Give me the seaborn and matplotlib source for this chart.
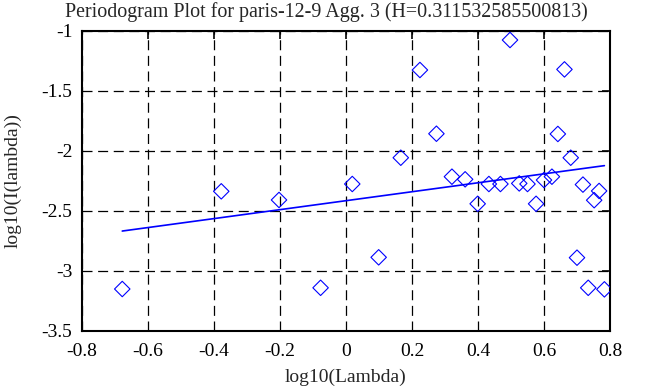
"""
Periodogram plot (log-log) with least-squares fit line
"""

import matplotlib
matplotlib.use('Agg')
import matplotlib.pyplot as plt
import numpy as np
import pandas as pd
import seaborn as sns

# data
log_lambda = [-0.678, -0.378, -0.203, -0.077, 0.019, 0.099, 0.166, 0.224, 0.274,
              0.321, 0.361, 0.399, 0.433, 0.468, 0.497, 0.525, 0.550, 0.576,
              0.600, 0.624, 0.642, 0.662, 0.681, 0.700, 0.718, 0.734, 0.752,
              0.767, 0.783]
log_I = [-3.15, -2.336, -2.408, -3.14, -2.275, -2.886, -2.056, -1.325, -1.856,
         -2.214, -2.236, -2.44, -2.275, -2.275, -1.075, -2.27, -2.275, -2.44,
         -2.242, -2.214, -1.858, -1.32, -2.056, -2.889, -2.28, -3.14, -2.41,
         -2.333, -3.153]

# fitted line end points
fit_x = [-0.678, 0.783]
fit_y = [-2.667, -2.122]

title = 'Periodogram Plot for paris-12-9 Agg. 3 (H=0.311532585500813)'
xticks = [-0.8, -0.6, -0.4, -0.2, 0, 0.2, 0.4, 0.6, 0.8]
yticks = [-3.5, -3, -2.5, -2, -1.5, -1]

sns.set_style('white')
plt.rcParams['font.family'] = ['Liberation Serif', 'DejaVu Serif']
plt.rcParams['font.size'] = 14

points = pd.DataFrame({'x': log_lambda, 'y': log_I})
fit = pd.DataFrame({'x': fit_x, 'y': fit_y})

fig = plt.figure(figsize=(6.53, 3.87), dpi=100)
ax = fig.add_axes([82 / 653, 1 - 331 / 387, 528 / 653, 300 / 387])

sns.scatterplot(data=points, x='x', y='y', ax=ax, marker='D', s=62,
                facecolors='none', edgecolor='blue', linewidth=0.8, zorder=3)
sns.lineplot(data=fit, x='x', y='y', ax=ax, color='blue', linewidth=1.2, zorder=3)

ax.set_xlim(-0.8, 0.8)
ax.set_ylim(-3.5, -1)
ax.set_xticks(xticks)
ax.set_yticks(yticks)
ax.set_xticklabels(['-0.8', '-0.6', '-0.4', '-0.2', '0', '0.2', '0.4', '0.6', '0.8'])
ax.set_yticklabels(['-3.5', '-3', '-2.5', '-2', '-1.5', '-1'])
ax.tick_params(direction='in', length=6, width=1.2, top=True, right=True,
               labelsize=14, colors='black', pad=7)
ax.tick_params(axis='x', pad=9)
ax.grid(True, color='black', linestyle=(0, (8, 4.5)), linewidth=0.9)
for s in ax.spines.values():
    s.set_color('black')
    s.set_linewidth(1.5)

ax.set_xlabel('log10(Lambda)', fontsize=14, labelpad=6)
ax.set_ylabel('log10(I(lambda))', fontsize=14, labelpad=14)
fig.text(0.5, 0.968, title, ha='center', va='center', fontsize=14.4)

fig.savefig('out.png', dpi=100)
